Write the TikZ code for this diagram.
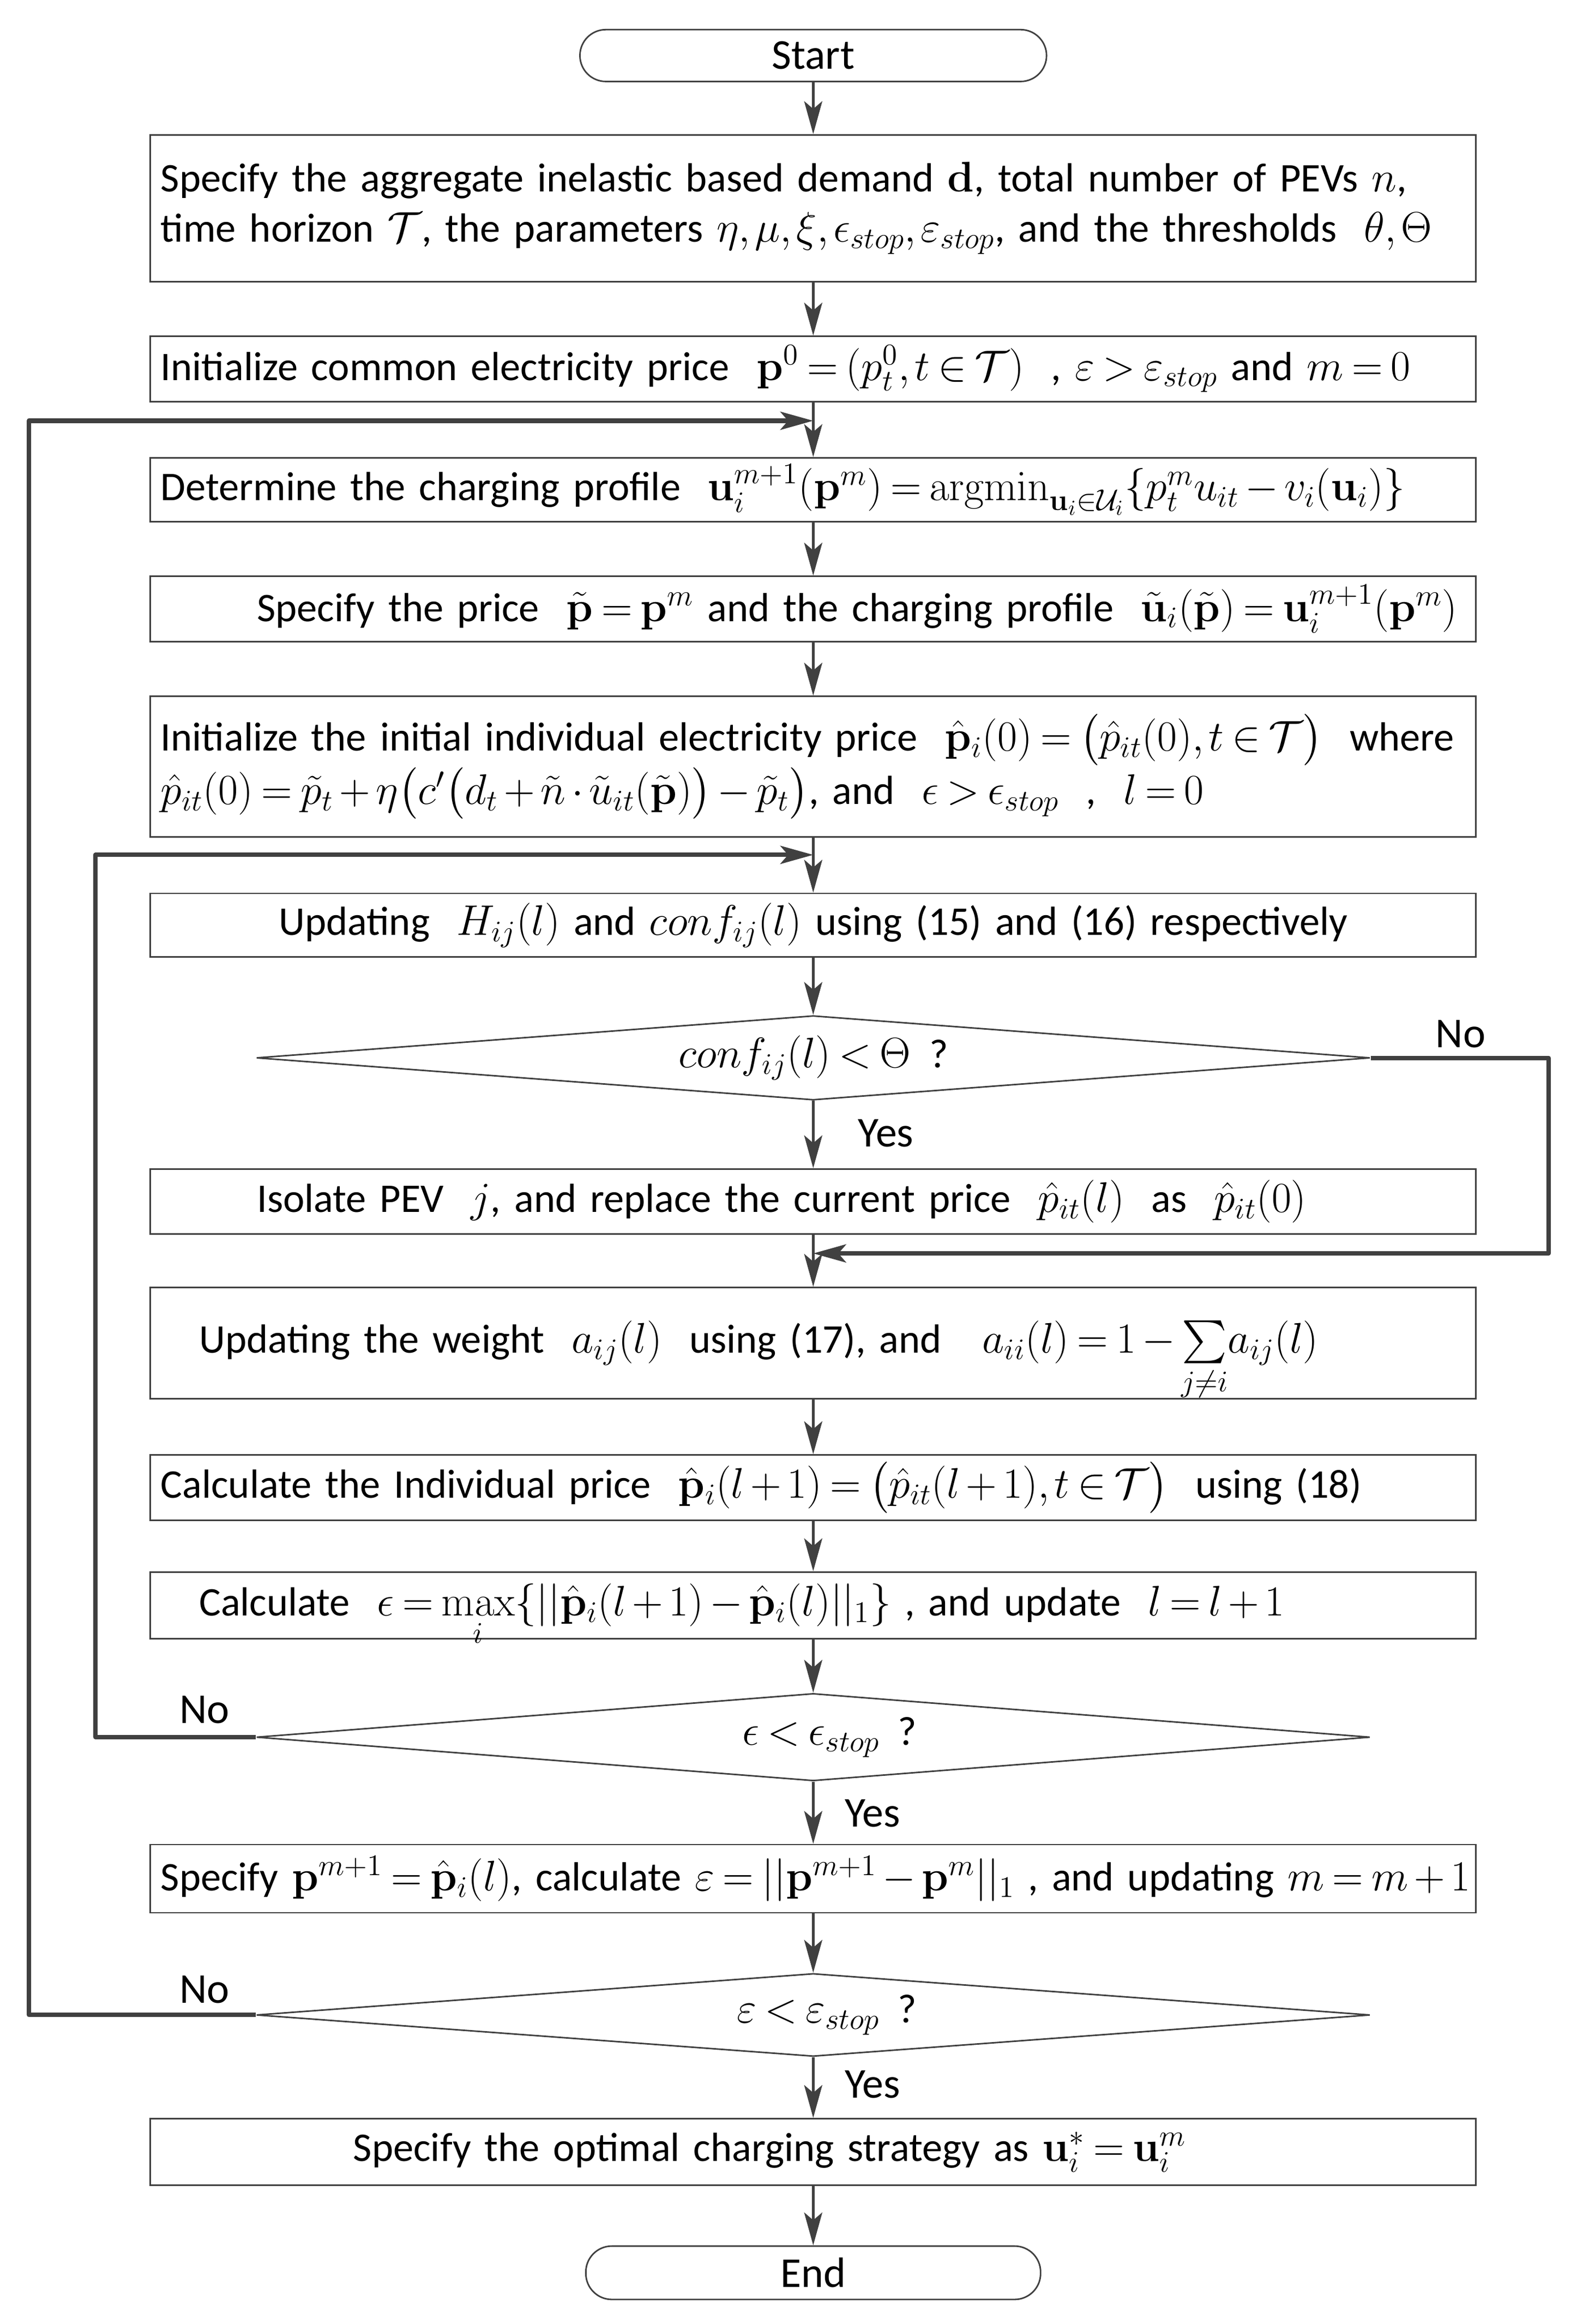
\RequirePackage{fix-cm}
\documentclass[tikz,border=0pt]{standalone}
\usepackage{amsmath,amssymb}
\usepackage[no-math]{fontspec}
\setmainfont{Carlito}[Scale=0.95]
\usetikzlibrary{arrows.meta,shapes.geometric}
\definecolor{lc}{HTML}{404040}
\thinmuskip=2mu
\medmuskip=2.5mu
\thickmuskip=3.5mu
\begin{document}
\begin{tikzpicture}[x=0.02713cm,y=-0.02713cm,
  font=\fontsize{22.3}{26.3}\selectfont,
  box/.style={draw=lc, line width=0.8pt, rectangle, minimum width=24.28cm, inner xsep=0.19cm, inner ysep=0pt, text width=23.9cm, align=left},
  cbox/.style={box, align=center},
  term/.style={draw=lc, line width=0.8pt, rectangle, rounded corners=0.475cm, inner sep=0pt},
  dec/.style={draw=lc, line width=0.8pt, diamond, aspect=13.2, inner sep=0pt, minimum width=20.4cm},
  arr/.style={draw=lc, line width=1.5pt, -{Stealth[length=0.6cm,width=0.33cm,inset=0.14cm]}},
  loopline/.style={draw=lc, line width=2.3pt, line join=round, -{Stealth[length=0.6cm,width=0.33cm,inset=0.14cm]}},
  lab/.style={inner sep=0pt, font=\fontsize{23.3}{26.3}\selectfont}
]
\useasboundingbox (0,0) rectangle (1064.3,1568.6);

\node[term, lab, minimum width=8.546cm, minimum height=0.95cm] (start) at (549,37.5) {Start};

\node[box, minimum height=2.686cm] (b1) at (549,140.5) {\mbox{Specify the aggregate inelastic based demand $\mathbf{d}$, total number of PEVs $n$,}\\\mbox{time horizon $\mathcal{T}$, the parameters $\eta,\mu,\xi,\epsilon_{stop},\varepsilon_{stop}$, and the thresholds\ \ $\theta,\Theta$}};

\node[box, minimum height=1.194cm] (b2) at (549,249) {\mbox{Initialize common electricity price\ \ $\mathbf{p}^0=(p_t^0,t\in\mathcal{T})$\ \ , $\varepsilon>\varepsilon_{stop}$ and $m=0$}};

\node[box, minimum height=1.167cm] (b3) at (549,330.5) {\mbox{Determine the charging profile\ \ $\mathbf{u}_i^{m+1}(\mathbf{p}^m)=\mathrm{argmin}_{\mathbf{u}_i\in\mathcal{U}_i}\{p_t^m u_{it}-v_i(\mathbf{u}_i)\}$}};

\node[box, minimum height=1.194cm] (b4) at (549,411) {\mbox{\hspace*{1.763cm}Specify the price\ \ $\tilde{\mathbf{p}}=\mathbf{p}^m$ and the charging profile\ \ $\tilde{\mathbf{u}}_i(\tilde{\mathbf{p}})=\mathbf{u}_i^{m+1}(\mathbf{p}^m)$}};

\node[box, minimum height=2.577cm] (b5) at (549,517.5) {\mbox{Initialize the initial individual electricity price\ \ $\hat{\mathbf{p}}_i(0)=\big(\hat{p}_{it}(0),t\in\mathcal{T}\big)$\ \ where}\\\mbox{$\hat{p}_{it}(0)=\tilde{p}_t+\eta\big(c'\big(d_t+\tilde{n}\cdot\tilde{u}_{it}(\tilde{\mathbf{p}})\big)-\tilde{p}_t\big)$, and\ \ $\epsilon>\epsilon_{stop}$\ \ ,\ \ $l=0$}};

\node[cbox, minimum height=1.167cm] (b6) at (549,624.5) {\mbox{Updating\ \ $H_{ij}(l)$ and $conf_{ij}(l)$ using (15) and (16) respectively}};

\node[dec, minimum height=1.546cm] (d1) at (549,714) {$conf_{ij}(l)<\Theta$\ \ ?};

\node[box, minimum height=1.194cm] (b7) at (549,811) {\mbox{\hspace*{1.763cm}Isolate PEV\ \ $j$, and replace the current price\ \ $\hat{p}_{it}(l)$\ \ as\ \ $\hat{p}_{it}(0)$}};

\node[box, minimum height=2.035cm] (b8) at (549,906.5) {\mbox{\hspace*{0.705cm}Updating the weight\ \ $a_{ij}(l)$\ \ using (17), and\ \ \ $a_{ii}(l)=1-\smash[b]{\sum\limits_{j\neq i}}a_{ij}(l)$}};

\node[box, minimum height=1.194cm] (b9) at (549,1004) {\mbox{Calculate the Individual price\ \ $\hat{\mathbf{p}}_i(l+1)=\big(\hat{p}_{it}(l+1),t\in\mathcal{T}\big)$\ \ using (18)}};

\node[box, minimum height=1.221cm] (b10) at (549,1083.5) {\mbox{\hspace*{0.705cm}Calculate\ \ $\epsilon=\smash[b]{\max\limits_i}\{||\hat{\mathbf{p}}_i(l+1)-\hat{\mathbf{p}}_i(l)||_1\}$ , and update\ \ $l=l+1$}};

\node[dec, minimum height=1.601cm] (d2) at (549,1172.5) {\hspace*{0.6cm}$\epsilon<\epsilon_{stop}$\ \ ?};

\node[box, minimum height=1.248cm] (b11) at (549,1268) {\mbox{Specify $\mathbf{p}^{m+1}=\hat{\mathbf{p}}_i(l)$, calculate $\varepsilon=||\mathbf{p}^{m+1}-\mathbf{p}^m||_1$ , and updating $m=m+1$}};

\node[dec, minimum height=1.519cm] (d3) at (549,1360) {\hspace*{0.5cm}$\varepsilon<\varepsilon_{stop}$\ \ ?};

\node[box, minimum height=1.221cm] (b12) at (549,1452.5) {\mbox{\hspace*{3.527cm}Specify the optimal charging strategy as $\mathbf{u}_i^*=\mathbf{u}_i^m$}};

\node[term, lab, minimum width=8.329cm, minimum height=0.977cm] (end) at (549,1534) {End};

\draw[arr] (start.south) -- (b1.north);
\draw[arr] (b1.south) -- (b2.north);
\draw[arr] (b2.south) -- (b3.north);
\draw[arr] (b3.south) -- (b4.north);
\draw[arr] (b4.south) -- (b5.north);
\draw[arr] (b5.south) -- (b6.north);
\draw[arr] (b6.south) -- (d1.north);
\draw[arr] (d1.south) -- (b7.north);
\draw[arr] (b7.south) -- (b8.north);
\draw[arr] (b8.south) -- (b9.north);
\draw[arr] (b9.south) -- (b10.north);
\draw[arr] (b10.south) -- (d2.north);
\draw[arr] (d2.south) -- (b11.north);
\draw[arr] (b11.south) -- (d3.north);
\draw[arr] (d3.south) -- (b12.north);
\draw[arr] (b12.south) -- (end.north);

\coordinate (m1) at (549,846);
\coordinate (m2) at (549,577);
\coordinate (m3) at (549,284);
\draw[loopline] (d1.east) -- ++(120,0) |- (m1);
\draw[loopline] (d2.west) -- ++(-108,0) |- (m2);
\draw[loopline] (d3.west) -- ++(-153,0) |- (m3);

\node[lab] (no1) at (986,698) {No};
\node[lab] (no2) at (138,1154) {No};
\node[lab] (no3) at (138,1343) {No};
\node[lab] (yes1) at (598,765) {Yes};
\node[lab] (yes2) at (589,1224) {Yes};
\node[lab] (yes3) at (589,1407) {Yes};
\end{tikzpicture}
\end{document}
